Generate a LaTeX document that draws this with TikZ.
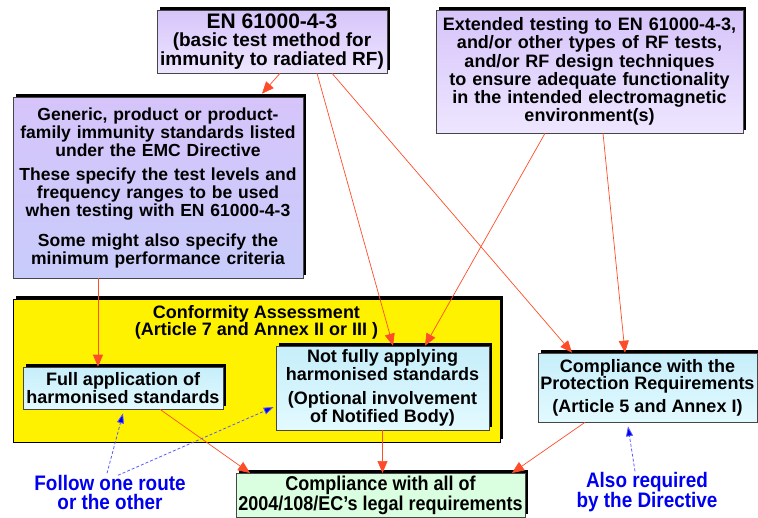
\documentclass[tikz,border=0pt]{standalone}
\usepackage{fontspec}
\setmainfont{Liberation Sans}
\newfontfamily\narrowfont[FakeStretch=0.9]{Liberation Sans}
\usetikzlibrary{arrows.meta,shadows}
\definecolor{boxline}{RGB}{70,70,70}
\definecolor{lilactop}{RGB}{214,196,250}
\definecolor{lilacbot}{RGB}{238,230,255}
\definecolor{bluebot}{RGB}{200,204,250}
\definecolor{cyantop}{RGB}{198,238,250}
\definecolor{cyanbot}{RGB}{226,250,255}
\definecolor{mint}{RGB}{218,255,224}
\definecolor{arrowred}{RGB}{255,76,40}
\definecolor{routeblue}{RGB}{0,0,240}
\definecolor{dashblue}{RGB}{90,90,255}
\tikzset{
  box/.style={draw=boxline, line width=0.6pt, align=center, inner sep=2pt,
    font=\bfseries\fontsize{17.5}{18}\selectfont,
    drop shadow={shadow xshift=3pt,shadow yshift=3pt,fill=black,opacity=1}},
  lilac/.style={box, top color=lilactop, bottom color=lilacbot},
  lilacblue/.style={box, top color=lilactop, bottom color=bluebot},
  cyanbox/.style={box, top color=cyantop, bottom color=cyanbot},
  redarrow/.style={arrowred, line width=0.7pt, -{Triangle[length=12pt,width=10pt]}},
  bluearrow/.style={dashblue, line width=0.8pt, dash pattern=on 3pt off 2pt,
    -{Triangle[length=10pt,width=7pt,fill=routeblue]}},
  bluetext/.style={routeblue, align=center, font=\narrowfont\bfseries\fontsize{21}{19}\selectfont}
}
\begin{document}
\begin{tikzpicture}[x=1pt,y=-1pt]
\useasboundingbox (0,0) rectangle (758,517);
%% top row
\node[lilac, minimum width=230, minimum height=63, font=\bfseries\fontsize{19}{18.5}\selectfont] (en) at (272,41.5)
  {{\fontsize{21}{19}\selectfont EN 61000-4-3}\\(basic test method for\\immunity to radiated RF)};
\node[lilac, minimum width=307, minimum height=123, text width=303,
  font=\bfseries\fontsize{18}{18.3}\selectfont] (ext) at (589.5,71.5)
  {Extended testing to EN 61000-4-3,\\and/or other types of RF tests,\\and/or RF design techniques\\to ensure adequate functionality\\in the intended electromagnetic\\environment(s)};
\node[lilacblue, minimum width=290, minimum height=181, text width=286] (generic) at (158,187.5)
  {Generic, product or product-\\family immunity standards listed\\under the EMC Directive\\[6pt]
   These specify the test levels and\\frequency ranges to be used\\when testing with EN 61000-4-3\\[12pt]
   Some might also specify the\\minimum performance criteria};
%% conformity assessment
\node[box, fill=yellow, draw=black, minimum width=487, minimum height=143] (conf) at (256.5,370.5) {};
\node[anchor=north, align=center, font=\bfseries\fontsize{18}{17}\selectfont] (conftitle) at ([yshift=-3pt]conf.north)
  {Conformity Assessment\\(Article 7 and Annex II or III )};
\node[cyanbox, minimum width=200, minimum height=42, font=\bfseries\fontsize{18}{18}\selectfont] (full) at (123,388)
  {Full application of\\harmonised standards};
\node[cyanbox, minimum width=213, minimum height=84, font=\bfseries\fontsize{18}{18}\selectfont] (notfully) at (382.5,388)
  {Not fully applying\\harmonised standards\\[6pt](Optional involvement\\of Notified Body)};
\node[cyanbox, minimum width=219, minimum height=69, font=\bfseries\fontsize{18}{17}\selectfont] (prot) at (647.5,387.5)
  {Compliance with the\\Protection Requirements\\[6pt](Article 5 and Annex I)};
%% bottom
\node[box, fill=mint, anchor=north, minimum width=289, minimum height=44,
  font=\narrowfont\bfseries\fontsize{20}{20}\selectfont] (legal) at (380.5,473)
  {Compliance with all of\\2004/108/EC’s legal requirements};
\node[bluetext] (follow) at (110,492) {Follow one route\\or the other};
\node[bluetext] (also) at (647,492) {Also required\\by the Directive};
%% arrows
\draw[redarrow] ([xshift=8pt]en.south) -- ([xshift=104pt,yshift=3pt]generic.north);
\draw[redarrow] ([xshift=45pt]en.south) -- ([xshift=10.5pt]notfully.north);
\draw[redarrow] ([xshift=60pt]en.south) -- ([xshift=-75.5pt]prot.north);
\draw[redarrow] ([xshift=-44.5pt]ext.south) -- ([xshift=42.5pt]notfully.north);
\draw[redarrow] ([xshift=13.5pt]ext.south) -- ([xshift=-22.5pt]prot.north);
\draw[redarrow] ([xshift=-60pt]generic.south) -- ([xshift=-25pt]full.north);
\draw[redarrow] ([xshift=37pt]full.south) -- ([xshift=-130.5pt]legal.north);
\draw[redarrow] (notfully.south) -- (notfully.south |- legal.north);
\draw[redarrow] ([xshift=-62.5pt]prot.south) -- ([xshift=131.5pt]legal.north);
\draw[bluearrow] ([xshift=-3pt,yshift=-2pt]follow.north) -- ([yshift=-4pt]full.south);
\draw[bluearrow] ([xshift=8pt,yshift=-4pt]follow.north) -- ([xshift=-2pt,yshift=-19pt]notfully.west);
\draw[bluearrow] ([xshift=-12pt,yshift=-3pt]also.north) -- ([xshift=-19.5pt,yshift=-4pt]prot.south);
\end{tikzpicture}
\end{document}
